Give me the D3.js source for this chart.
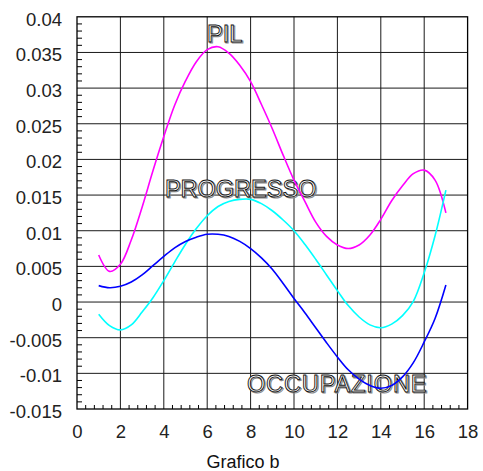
<!DOCTYPE html>
<html>
<head>
<meta charset="utf-8">
<script src="https://cdn.jsdelivr.net/npm/d3@7"></script>
<style>
  html, body { margin: 0; padding: 0; background: #fff; }
  svg { display: block; font-family: "Liberation Sans", Arial, sans-serif; }
</style>
</head>
<body>
<svg id="chart" width="483" height="471"></svg>
<script>
// Sample positions (half-year steps) shared by the three series
const xs = [1, 1.5, 2, 2.5, 3, 3.5, 4, 4.5, 5, 5.5, 6, 6.5, 7, 7.5, 8, 8.5, 9,
            9.5, 10, 10.5, 11, 11.5, 12, 12.5, 13, 13.5, 14, 14.5, 15, 15.5, 16, 16.5, 17];

const pil = [0.0066, 0.0043, 0.0053, 0.0087, 0.0133, 0.0184, 0.0232, 0.0276, 0.0310, 0.0337, 0.0354, 0.0358, 0.0349,
             0.0332, 0.0309, 0.0277, 0.0243, 0.0206, 0.0171, 0.0141, 0.0112, 0.0092, 0.0080, 0.0075, 0.0080,
             0.0094, 0.0116, 0.0142, 0.0163, 0.0180, 0.0185, 0.0171, 0.0125];

const progresso = [-0.0017, -0.0033, -0.0039, -0.0032, -0.0014, 0.0006, 0.0030, 0.0056, 0.0081, 0.0103, 0.0121,
                   0.0134, 0.0141, 0.0144, 0.0144, 0.0138, 0.0128, 0.0115, 0.0100, 0.0081, 0.0060, 0.0038,
                   0.0016, -0.0005, -0.0021, -0.0032, -0.0036, -0.0031, -0.0019, 0.0001, 0.0041, 0.0093, 0.0157];

const occupazione = [0.0023, 0.0020, 0.0022, 0.0028, 0.0038, 0.0051, 0.0064, 0.0076, 0.0085, 0.0091, 0.0095,
                     0.0095, 0.0092, 0.0085, 0.0075, 0.0062, 0.0046, 0.0026, 0.0005, -0.0015, -0.0036, -0.0057,
                     -0.0077, -0.0095, -0.0108, -0.0117, -0.0121, -0.0117, -0.0105, -0.0085, -0.0056, -0.0023, 0.0024];

const xTicks = [0, 2, 4, 6, 8, 10, 12, 14, 16, 18];
const yTicks = [-0.015, -0.01, -0.005, 0, 0.005, 0.01, 0.015, 0.02, 0.025, 0.03, 0.035, 0.04];
const yTickLabels = ["-0.015", "-0.01", "-0.005", "0", "0.005", "0.01", "0.015", "0.02", "0.025", "0.03", "0.035", "0.04"];

const seriesNames = ["PIL", "PROGRESSO", "OCCUPAZIONE"];
const seriesColors = ["#ff00ff", "#00ffff", "#0000ff"];
// Anchor of each series name, in data units [x, y]
const labelAnchors = [[5.99, 0.0365], [4.05, 0.0147], [7.83, -0.0126]];
const labelSpacing = [0, 0, 0.9];

const title = "Grafico b";

const svg = d3.select("#chart");
const x = d3.scaleLinear().domain([0, 18]).range([77, 467.6]);
const y = d3.scaleLinear().domain([-0.015, 0.04]).range([409, 16.8]);

const plotLeft = x.range()[0], plotRight = x.range()[1];
const plotTop = y.range()[1], plotBottom = y.range()[0];

// Grid lines at the major ticks
const grid = svg.append("g").attr("stroke", "#1a1a1a").attr("stroke-width", 1);
grid.selectAll("line.gx").data(xTicks.slice(1, -1)).join("line")
  .attr("x1", d => x(d)).attr("x2", d => x(d))
  .attr("y1", plotTop).attr("y2", plotBottom);
grid.selectAll("line.gy").data(yTicks.slice(1, -1)).join("line")
  .attr("x1", plotLeft).attr("x2", plotRight)
  .attr("y1", d => y(d)).attr("y2", d => y(d));

// Minor ticks pointing inward on the left and bottom edges
const minorY = d3.range(-0.015, 0.04, 0.001).filter(v => Math.abs(Math.round(v / 0.005) * 0.005 - v) > 1e-9);
svg.append("g").attr("stroke", "#000").attr("stroke-width", 1)
  .selectAll("line").data(minorY).join("line")
  .attr("x1", plotLeft).attr("x2", plotLeft + 5)
  .attr("y1", d => y(d)).attr("y2", d => y(d));
const minorX = d3.range(0, 18, 0.4).filter(v => Math.abs(Math.round(v / 2) * 2 - v) > 1e-9);
svg.append("g").attr("stroke", "#000").attr("stroke-width", 1)
  .selectAll("line").data(minorX).join("line")
  .attr("x1", d => x(d)).attr("x2", d => x(d))
  .attr("y1", plotBottom).attr("y2", plotBottom - 4);

// Frame
svg.append("rect")
  .attr("x", plotLeft).attr("y", plotTop)
  .attr("width", plotRight - plotLeft).attr("height", plotBottom - plotTop)
  .attr("fill", "none").attr("stroke", "#000").attr("stroke-width", 1.3);

// Axes tick labels
const yAxis = d3.axisLeft(y).tickValues(yTicks).tickSize(0).tickPadding(15)
  .tickFormat((d, i) => yTickLabels[i]);
const gy = svg.append("g").attr("transform", `translate(${plotLeft},0)`).call(yAxis);
gy.select(".domain").remove();
gy.selectAll("text").attr("font-size", 18.5).attr("fill", "#222")
  .attr("font-family", "Liberation Sans, Arial, sans-serif").attr("dy", "0.45em");

const xAxis = d3.axisBottom(x).tickValues(xTicks).tickSize(0).tickPadding(16);
const gx = svg.append("g").attr("transform", `translate(0,${plotBottom})`).call(xAxis);
gx.select(".domain").remove();
gx.selectAll("text").attr("font-size", 18.5).attr("fill", "#222")
  .attr("font-family", "Liberation Sans, Arial, sans-serif");

// Outlined series names with a soft shadow
seriesNames.forEach((name, i) => {
  const [lx, ly] = labelAnchors[i];
  svg.append("text")
    .attr("x", x(lx) + 1.2).attr("y", y(ly) + 1.2)
    .attr("font-size", 23.5)
    .attr("letter-spacing", labelSpacing[i])
    .attr("fill", "none").attr("stroke", "#8a8a8a").attr("stroke-width", 1.1)
    .text(name);
  svg.append("text")
    .attr("x", x(lx)).attr("y", y(ly))
    .attr("font-size", 23.5)
    .attr("letter-spacing", labelSpacing[i])
    .attr("fill", "#fff").attr("stroke", "#111").attr("stroke-width", 0.9)
    .text(name);
});

// Series lines, drawn over the names
const allSeries = [pil, progresso, occupazione];
const line = d3.line().curve(d3.curveCatmullRom.alpha(0.5));
allSeries.forEach((vals, i) => {
  svg.append("path")
    .attr("d", line(xs.map((xv, j) => [x(xv), y(vals[j])])))
    .attr("fill", "none")
    .attr("stroke", seriesColors[i])
    .attr("stroke-width", 1.6);
});

// Title below the chart
svg.append("text")
  .attr("x", 243).attr("y", 468)
  .attr("text-anchor", "middle")
  .attr("font-size", 18)
  .attr("fill", "#111")
  .text(title);
</script>
</body>
</html>
